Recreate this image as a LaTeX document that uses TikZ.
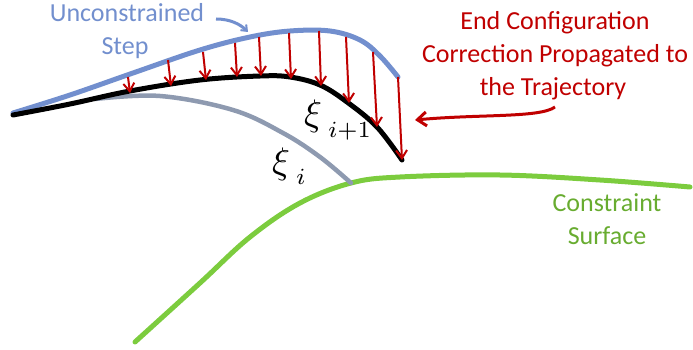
\documentclass[tikz,border=0pt]{standalone}
\usepackage{fontspec}
\setmainfont{Carlito}
\usetikzlibrary{arrows.meta}
\definecolor{stepblue}{RGB}{114,143,206}
\definecolor{corrred}{RGB}{192,0,0}
\definecolor{surfgreen}{RGB}{124,204,62}
\definecolor{surfgreentext}{RGB}{104,172,48}
\definecolor{oldgray}{RGB}{142,154,176}
\newcommand{\xisub}[1]{\scalebox{3.7}{$\xi$}\hspace{6pt}\raisebox{-11pt}{\scalebox{3.3}{$\scriptstyle #1$}}}
\tikzset{
  curve/.style={line width=5pt, line cap=round, line join=round},
  corr/.style={corrred, line width=2pt, -{Straight Barb[length=8pt,width=11pt,line width=2pt]}},
  lbl/.style={font=\fontsize{26}{32}\selectfont, inner sep=0pt, anchor=base},
  mathlbl/.style={inner sep=0pt, anchor=base west}
}
\begin{document}
\begin{tikzpicture}[x=1pt,y=-1pt]
\useasboundingbox (0,0) rectangle (693,350);
% constraint surface
\draw[curve, surfgreen] plot[smooth, tension=0.6] coordinates {(135,342) (200,283) (250,237) (300,203) (351,183) (400,177) (500,175) (600,180) (690,187)};
% previous trajectory
\draw[curve, oldgray, line width=4.5pt] plot[smooth, tension=0.6] coordinates {(95,99) (160,96) (233,110) (283,133) (320,157) (351,183)};
% unconstrained step
\draw[curve, stepblue] plot[smooth, tension=0.6] coordinates {(13,113) (70,95) (133,73) (200,50) (250,37) (290,31) (330,31) (360,40) (380,56) (398,77)};
% new trajectory
\draw[curve, black] plot[smooth, tension=0.6] coordinates {(13,115) (70,104) (130,91) (200,80) (260,76) (290,77) (320,85) (347,102) (377,127) (402,160)};
% correction arrows
\foreach \i/\sx/\sy/\ex/\ey in {1/128/77/130/93, 2/168/60/171/86, 3/203/52/206/80, 4/235/43/237/77, 5/259/37/261/76, 6/289/33/291/79, 7/319/31/321/86, 8/346/37/349/103, 9/373/52/377/127, 10/398/77/402/160}{
  \coordinate (s\i) at (\sx,\sy);
  \coordinate (e\i) at (\ex,\ey);
  \draw[corr] (s\i) -- (e\i);
}
% labels
\node[lbl, text=stepblue] (unc) at (127,22) {Unconstrained};
\node[lbl, text=stepblue] (step) at (125,55) {Step};
\coordinate (uncend) at (216,19);
\coordinate (uncptr) at (248,32);
\draw[stepblue, line width=3pt, -{Straight Barb[length=5pt,width=8pt,line width=2pt]}] (uncend) .. controls (230,19) and (240,24) .. (uncptr);
\node[lbl, text=corrred] (endc1) at (555,30) {End Configuration};
\node[lbl, text=corrred] (endc2) at (555,63) {Correction Propagated to};
\node[lbl, text=corrred] (endc3) at (553,96) {the Trajectory};
\coordinate (endptr) at (555,107);
\coordinate (endtip) at (415,120);
\draw[corrred, line width=3pt, -{Straight Barb[length=9pt,width=14pt,line width=3pt]}] (endptr) .. controls (540,118) and (480,114) .. (endtip);
\node[lbl, text=surfgreentext] (surf1) at (607,211) {Constraint};
\node[lbl, text=surfgreentext] (surf2) at (607,244) {Surface};
\node[mathlbl] (xinew) at (304,126) {\xisub{i+1}};
\node[mathlbl] (xiold) at (272,173) {\xisub{i}};
\end{tikzpicture}
\end{document}
